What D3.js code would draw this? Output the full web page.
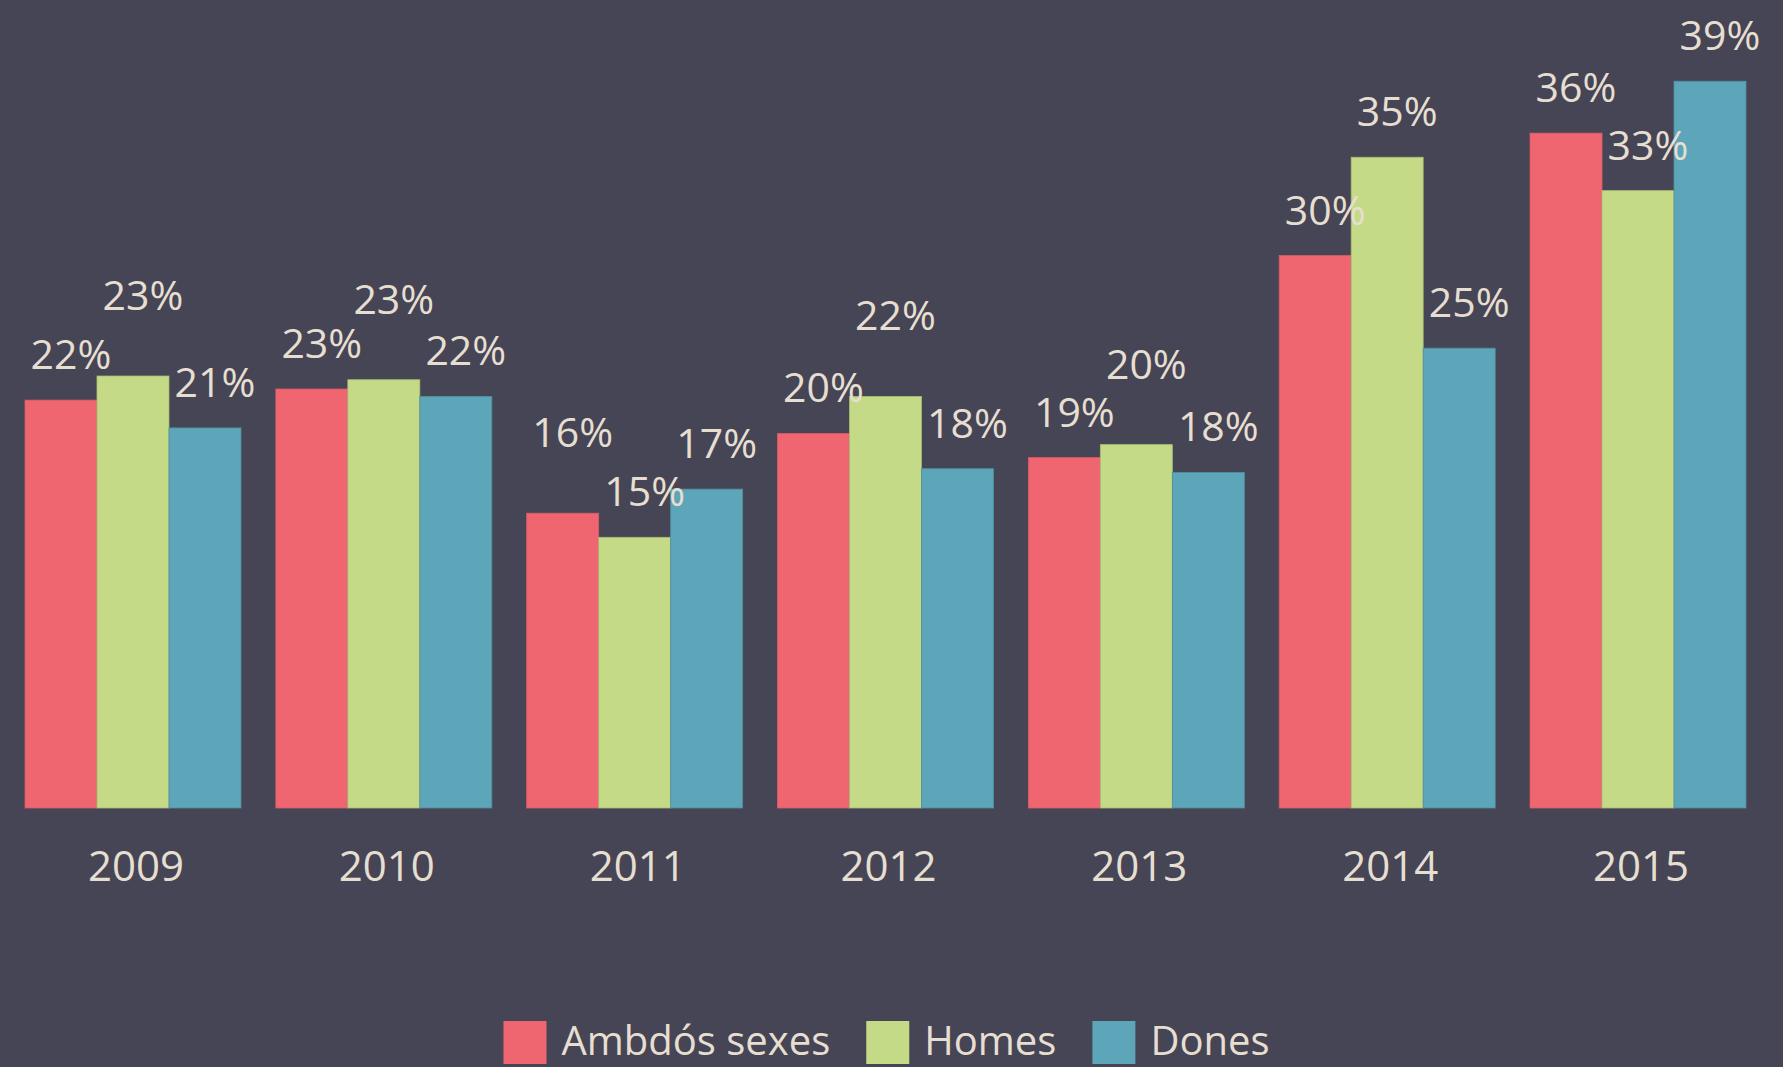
<!DOCTYPE html>
<html>
<head>
<meta charset="utf-8">
<script src="https://cdn.jsdelivr.net/npm/d3@7"></script>
<style>
  html, body { margin: 0; padding: 0; background: #464555; overflow: hidden; }
  svg { display: block; }
  text { font-family: "Open Sans", "Noto Sans", sans-serif; fill: #E6DFD1; }
</style>
</head>
<body>
<svg id="chart" width="1783" height="1067"></svg>
<script>
const years = ["2009", "2010", "2011", "2012", "2013", "2014", "2015"];
const seriesNames = ["Ambdós sexes", "Homes", "Dones"];
const ambdos = [22.0, 22.6, 15.9, 20.2, 18.9, 29.8, 36.4];
const homes  = [23.3, 23.1, 14.6, 22.2, 19.6, 35.1, 33.3];
const dones  = [20.5, 22.2, 17.2, 18.3, 18.1, 24.8, 39.2];
const seriesValues = [ambdos, homes, dones];
const colors = ["#EF6670", "#C4DA87", "#5DA5B8"];
const strokes = ["#D85C66", "#A9BC74", "#52909F"];

const W = 1783, H = 1067;
const svg = d3.select("#chart");
svg.append("rect").attr("width", W).attr("height", H).attr("fill", "#464555");

const x0 = d3.scaleBand().domain(years).range([25, 1746]).paddingInner(0.139).paddingOuter(0);
const x1 = d3.scaleBand().domain(d3.range(seriesNames.length)).range([0, x0.bandwidth()]);
const y = d3.scaleLinear().domain([0, 40]).range([808, 66.4]);

const rows = years.map((yr, i) => ({
  year: yr,
  vals: seriesValues.map((s, k) => ({ k, v: s[i] }))
}));

const groups = svg.append("g").selectAll("g.grp").data(rows).join("g")
  .attr("class", "grp")
  .attr("transform", d => `translate(${x0(d.year)},0)`);

groups.selectAll("rect").data(d => d.vals).join("rect")
  .attr("x", d => x1(d.k))
  .attr("width", x1.bandwidth())
  .attr("y", d => y(d.v))
  .attr("height", d => y(0) - y(d.v))
  .attr("fill", d => colors[d.k])
  .attr("stroke", d => strokes[d.k])
  .attr("stroke-width", 0.8);

// data labels with simple collision handling between neighbours
const labelOffset = 31, lift = 35, minGap = 43;
groups.each(function(d) {
  const base = d.vals.map(o => y(o.v) - labelOffset);
  const pos = base.slice();
  for (let i = 0; i < base.length - 1; i++) {
    if (Math.abs(base[i] - base[i + 1]) < minGap) {
      const hi = base[i] < base[i + 1] ? i : i + 1;
      pos[hi] = base[hi] - lift;
    }
  }
  d3.select(this).selectAll("text.lbl").data(d.vals).join("text")
    .attr("class", "lbl")
    .attr("x", o => x1(o.k) + x1.bandwidth() / 2 + 10)
    .attr("y", o => pos[o.k])
    .attr("text-anchor", "middle")
    .attr("font-size", 41)
    .text(o => Math.round(o.v) + "%");
});

// year axis
const xAxis = d3.axisBottom(x0).tickSize(0).tickPadding(43);
const ax = svg.append("g").attr("transform", `translate(3,${y(0)})`).call(xAxis);
ax.select(".domain").remove();
ax.selectAll("text")
  .attr("font-size", 42)
  .style("font-family", '"Open Sans", "Noto Sans", sans-serif')
  .attr("fill", "#E6DFD1");

// legend
const legend = svg.append("g");
const sq = 43, txtGap = 15, itemGap = 36;
let lx = 0;
seriesNames.forEach((name, k) => {
  const g = legend.append("g").attr("transform", `translate(${lx},0)`);
  g.append("rect").attr("x", 0).attr("y", 1021).attr("width", sq).attr("height", sq).attr("fill", colors[k]);
  const t = g.append("text").attr("x", sq + txtGap).attr("y", 1055).attr("font-size", 40).text(name);
  lx += sq + txtGap + t.node().getComputedTextLength() + itemGap;
});
const totalW = lx - itemGap;
legend.attr("transform", `translate(${886.5 - totalW / 2},0)`);
</script>
</body>
</html>
